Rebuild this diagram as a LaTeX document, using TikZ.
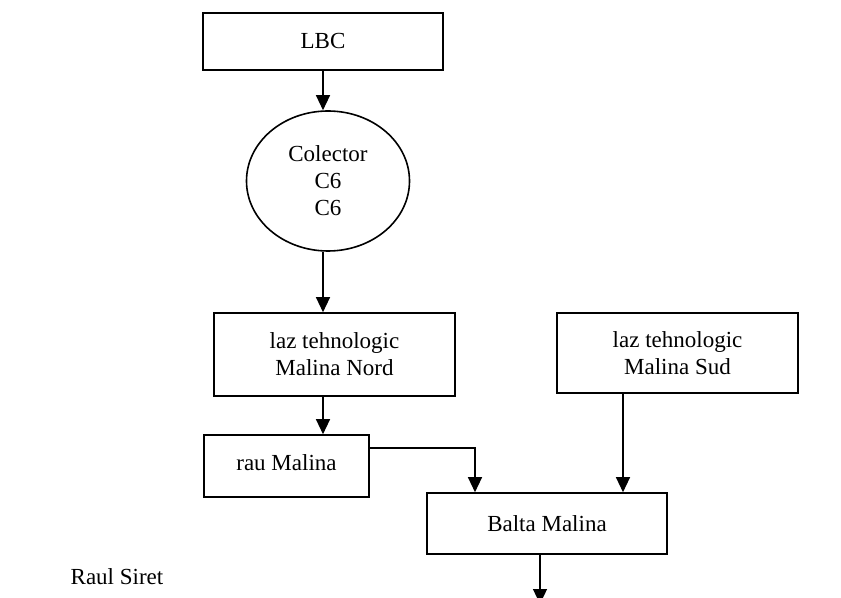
\documentclass[tikz,border=0pt]{standalone}
\usepackage{fontspec}
\setmainfont{Liberation Serif}
\usetikzlibrary{arrows.meta, positioning, shapes.geometric, calc}

\begin{document}
\begin{tikzpicture}[x=0.5pt, y=-0.5pt,
  every node/.style={font=\fontsize{11.5}{13.5}\selectfont},
  box/.style={draw, line width=0.8pt, align=center, inner sep=0pt},
  flow/.style={line width=0.65pt, -{Triangle[width=7pt, length=7.5pt]}}]
  \useasboundingbox (0,0) rectangle (841,598);

  % Draw boxes
  \node[box, minimum width=120pt, minimum height=28.5pt] (lbc) at (323,41.5) {LBC};
  \node[box, ellipse, minimum width=81.5pt, minimum height=70pt] (colector) at (328,181) {Colector\\C6\\C6};
  \node[box, minimum width=120.5pt, minimum height=41.5pt] (nord) at (334.5,354.5) {laz tehnologic\\Malina Nord};
  \node[box, minimum width=120.5pt, minimum height=40pt] (sud) at (677.5,353) {laz tehnologic\\Malina Sud};
  \node[box, minimum width=82.5pt, minimum height=31pt, text depth=3pt] (rau) at (286.5,466) {rau Malina};
  \node[box, minimum width=120pt, minimum height=30.5pt] (balta) at (547,523.5) {Balta Malina};
  \node (raul) at (117,577) {Raul Siret};
  \coordinate (out) at (540,604);

  % Draw arrows
  \draw[flow] (lbc.south) -- (lbc.south |- colector.north);
  \draw[flow] (lbc.south |- colector.south) -- (lbc.south |- nord.north);
  \draw[flow] (nord.south -| lbc.south) -- (rau.north -| lbc.south);
  \draw[flow] ([yshift=9pt]rau.east) -| ([xshift=-36pt]balta.north);
  \draw[flow] ([xshift=-27.25pt]sud.south) -- ([xshift=-27.25pt]sud.south |- balta.north);
  \draw[flow] (balta.south -| out) -- (out);
\end{tikzpicture}
\end{document}
